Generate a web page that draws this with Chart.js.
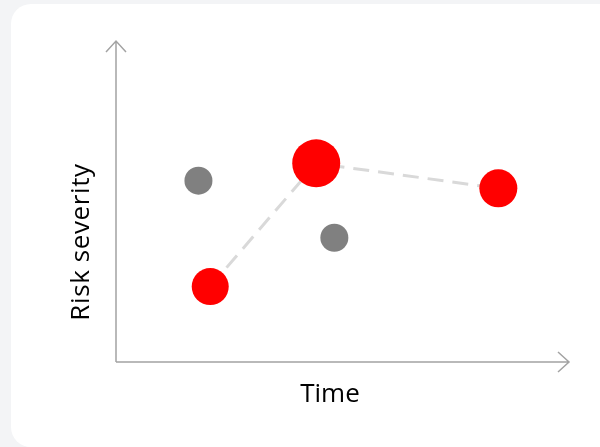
<!DOCTYPE html>
<html>
<head>
<meta charset="utf-8">
<script src="https://cdn.jsdelivr.net/npm/chart.js@4"></script>
<style>
  html, body { margin: 0; padding: 0; background: #f3f4f6; }
  #wrap { position: relative; width: 600px; height: 447px; overflow: hidden; }
  #card { position: absolute; left: 11px; top: 4px; width: 620px; height: 443px;
          background: #ffffff; border-radius: 20px; }
  #chart { position: absolute; left: 0; top: 0; }
</style>
</head>
<body>
<div id="wrap">
  <div id="card"></div>
  <canvas id="chart" width="600" height="447"></canvas>
</div>
<script>
// Risk points (x = time, y = severity)
const riskX = [2.08, 4.42, 8.44];
const riskY = [2.35, 6.19, 5.41];
const riskSize = [18.5, 24, 19];

const otherX = [1.82, 4.82];
const otherY = [5.65, 3.87];
const otherSize = [14, 14];

const xTitle = 'Time';
const yTitle = 'Risk severity';

/**
 * Draw axis lines with arrow heads and the axis titles
 */
const arrowAxes = {
  id: 'arrowAxes',
  beforeDatasetsDraw(chart) {
    const { ctx, chartArea } = chart;
    const { left, right, top, bottom } = chartArea;
    ctx.save();
    ctx.strokeStyle = '#a3a3a3';
    ctx.lineWidth = 1.5;
    ctx.beginPath();
    // y axis
    ctx.moveTo(left, bottom);
    ctx.lineTo(left, top);
    ctx.moveTo(left - 10, top + 11);
    ctx.lineTo(left, top);
    ctx.lineTo(left + 10, top + 11);
    // x axis
    ctx.moveTo(left, bottom);
    ctx.lineTo(right, bottom);
    ctx.moveTo(right - 11, bottom - 10);
    ctx.lineTo(right, bottom);
    ctx.lineTo(right - 11, bottom + 10);
    ctx.stroke();

    ctx.fillStyle = '#000000';
    ctx.font = '26px "Open Sans"';
    ctx.textAlign = 'center';
    ctx.textBaseline = 'middle';
    ctx.fillText(xTitle, 330, bottom + 33);
    ctx.translate(82, 242);
    ctx.rotate(-Math.PI / 2);
    ctx.letterSpacing = '0.6px';
    ctx.fillText(yTitle, 0, 0);
    ctx.restore();
  }
};

new Chart(document.getElementById('chart'), {
  type: 'scatter',
  data: {
    datasets: [
      {
        data: riskX.map((x, i) => ({ x: x, y: riskY[i] })),
        showLine: true,
        borderColor: '#d9d9d9',
        borderWidth: 3,
        borderDash: [16, 9],
        pointRadius: riskSize,
        pointHoverRadius: riskSize,
        pointBackgroundColor: '#ff0000',
        pointBorderWidth: 0
      },
      {
        data: otherX.map((x, i) => ({ x: x, y: otherY[i] })),
        pointRadius: otherSize,
        pointHoverRadius: otherSize,
        pointBackgroundColor: '#808080',
        pointBorderWidth: 0
      }
    ]
  },
  options: {
    responsive: false,
    animation: false,
    layout: { padding: { left: 116, right: 31, top: 41, bottom: 85 } },
    plugins: { legend: { display: false }, tooltip: { enabled: false } },
    scales: {
      x: { type: 'linear', min: 0, max: 10, display: false },
      y: { type: 'linear', min: 0, max: 10, display: false }
    }
  },
  plugins: [arrowAxes]
});
</script>
</body>
</html>
